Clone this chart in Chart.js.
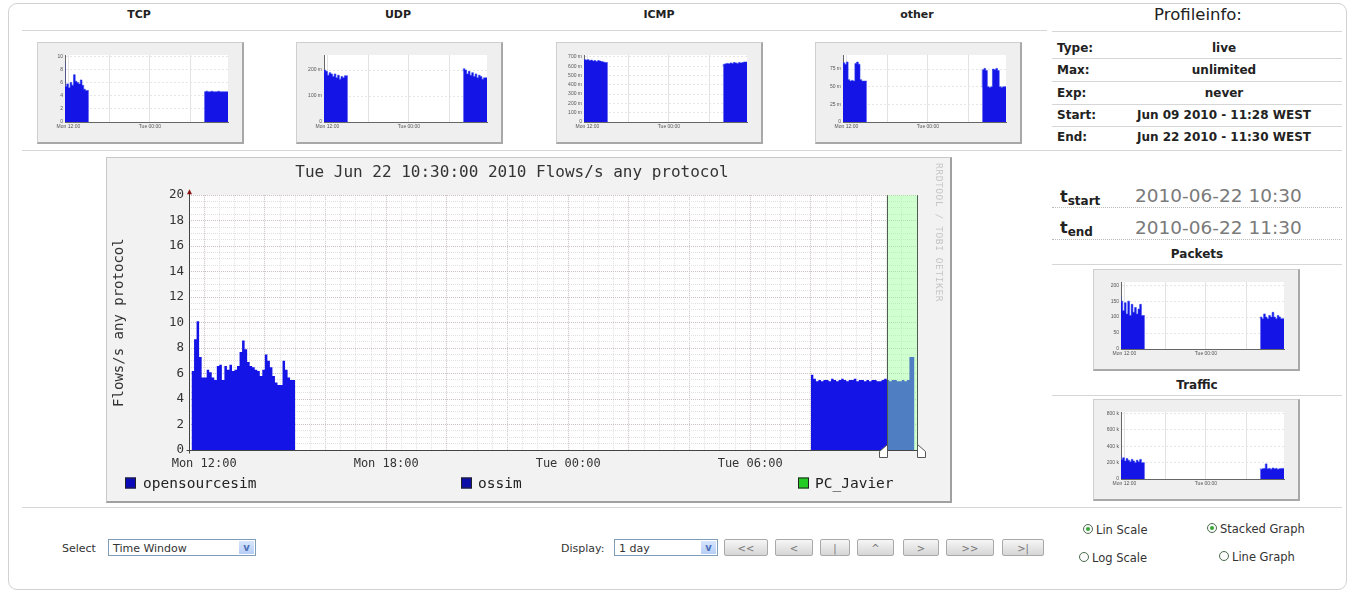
<!DOCTYPE html>
<html>
<head>
<meta charset="utf-8">
<title>NfSen - Flows/s any protocol</title>
<script src="https://cdn.jsdelivr.net/npm/chart.js@4.4.1/dist/chart.umd.min.js"></script>
<style>
  body { margin:0; width:1352px; height:592px; background:#fff; font-family:'DejaVu Sans', Verdana, sans-serif; color:#222; position:relative; overflow:hidden; }
  .abs { position:absolute; }
  .bingkai { left:8px; top:3px; width:1337px; height:585px; border:1px solid #d2d2d2; border-radius:9px; }
  .judulKolom { top:8px; font-size:11px; font-weight:bold; transform:translateX(-50%); white-space:nowrap; }
  .garis { height:0; border-top:1px solid #d6d6d6; }
  .kotakThumb { background:#efefef; border-left:1px solid #cfcfcf; border-top:1px solid #cfcfcf; border-right:2px solid #a8a8a8; border-bottom:2px solid #a8a8a8; }
  .kotakThumb canvas, .kotakUtama canvas { display:block; }
  .kotakUtama { left:106px; top:157px; background:#f2f2f2; border-left:1px solid #c8c8c8; border-top:1px solid #c8c8c8; border-right:2px solid #a0a0a0; border-bottom:2px solid #a0a0a0; }
  .labelProfil { left:1057px; font-size:12px; font-weight:bold; transform:translateY(-50%); }
  .nilaiProfil { left:1224px; font-size:12px; font-weight:bold; transform:translate(-50%,-50%); white-space:nowrap; }
  .tWaktu { left:1060px; font-size:16px; font-weight:bold; transform:translateY(-50%); }
  .tWaktu sub { font-size:12px; vertical-align:-3px; }
  .nilaiWaktu { left:1135px; font-size:18.5px; color:#7a7a7a; transform:translateY(-50%); white-space:nowrap; }
  .judulKecil { font-size:12px; font-weight:bold; transform:translate(-50%,-50%); }
  .legenda { font-family:'DejaVu Sans Mono', monospace; font-size:14.5px; color:#222; transform:translateY(-50%); white-space:nowrap; }
  .kotakLegenda { width:9px; height:9px; border:1px solid #222; transform:translateY(-50%); }
  .teksRrd { left:934px; top:163px; font-family:'DejaVu Sans Mono', monospace; font-size:9.5px; color:#c4c4c4; writing-mode:vertical-rl; letter-spacing:0.6px; }
  .teksKontrol { font-size:11px; color:#333; transform:translateY(-50%); white-space:nowrap; }
  .pilihan { height:17px; background:#fff; border:1px solid #7f9db9; font-size:11px; color:#333; line-height:17px; padding-left:4px; box-sizing:border-box; }
  .pilihan .panah { position:absolute; right:1px; top:1px; width:15px; height:13px; background:linear-gradient(#d8e6fc,#b6cdf6); border:0; color:#4d6fb8; font-size:10px; font-weight:bold; text-align:center; line-height:13px; }
  .tombol { top:539px; height:17px; background:linear-gradient(#f6f6f6,#d6d6d6); border:1px solid #a9a9a9; border-radius:2px; font-size:10px; color:#777; text-align:center; line-height:17px; box-sizing:border-box; }
  .radio { width:10px; height:10px; border:1px solid #4c6b4c; border-radius:50%; background:#fbfbfb; box-sizing:border-box; }
  .radio.isi::after { content:''; position:absolute; left:2px; top:2px; width:4px; height:4px; border-radius:50%; background:#34a834; }
  .teksRadio { font-size:11.5px; color:#333; transform:translateY(-50%); white-space:nowrap; }
</style>
</head>
<body>

<div class="abs bingkai"></div>

<!-- judul kolom atas -->
<div class="abs judulKolom" style="left:139px">TCP</div>
<div class="abs judulKolom" style="left:398px">UDP</div>
<div class="abs judulKolom" style="left:659px">ICMP</div>
<div class="abs judulKolom" style="left:917px">other</div>
<div class="abs" style="left:1198px; top:5px; font-size:16.5px; transform:translateX(-50%)">Profileinfo:</div>

<div class="abs garis" style="left:22px; top:30px; width:1025px"></div>
<div class="abs garis" style="left:1052px; top:31px; width:290px"></div>

<!-- thumbnail protokol -->
<div class="abs kotakThumb" style="left:37px; top:42px"><canvas id="thumbTcp" width="204" height="99"></canvas></div>
<div class="abs kotakThumb" style="left:296px; top:42px"><canvas id="thumbUdp" width="204" height="99"></canvas></div>
<div class="abs kotakThumb" style="left:556px; top:42px"><canvas id="thumbIcmp" width="204" height="99"></canvas></div>
<div class="abs kotakThumb" style="left:815px; top:42px"><canvas id="thumbOther" width="204" height="99"></canvas></div>

<!-- tabel profil -->
<div class="abs labelProfil" style="top:48px">Type:</div><div class="abs nilaiProfil" style="top:48px">live</div>
<div class="abs garis" style="left:1052px; top:58px; width:290px"></div>
<div class="abs labelProfil" style="top:70px">Max:</div><div class="abs nilaiProfil" style="top:70px">unlimited</div>
<div class="abs garis" style="left:1052px; top:81px; width:290px"></div>
<div class="abs labelProfil" style="top:93px">Exp:</div><div class="abs nilaiProfil" style="top:93px">never</div>
<div class="abs garis" style="left:1052px; top:104px; width:290px"></div>
<div class="abs labelProfil" style="top:115px">Start:</div><div class="abs nilaiProfil" style="top:115px">Jun 09 2010 - 11:28 WEST</div>
<div class="abs garis" style="left:1052px; top:126px; width:290px"></div>
<div class="abs labelProfil" style="top:137px">End:</div><div class="abs nilaiProfil" style="top:137px">Jun 22 2010 - 11:30 WEST</div>

<div class="abs garis" style="left:22px; top:150px; width:1320px"></div>

<!-- grafik utama -->
<div class="abs kotakUtama"><canvas id="grafikFlows" width="843" height="343"></canvas></div>
<div class="abs teksRrd">RRDTOOL / TOBI OETIKER</div>

<div class="abs kotakLegenda" style="left:125px; top:483px; background:#0a0ab8"></div>
<div class="abs legenda" style="left:143px; top:483px">opensourcesim</div>
<div class="abs kotakLegenda" style="left:461px; top:483px; background:#0c0ca8"></div>
<div class="abs legenda" style="left:478px; top:483px">ossim</div>
<div class="abs kotakLegenda" style="left:798px; top:483px; background:#22cc22"></div>
<div class="abs legenda" style="left:815px; top:483px">PC_Javier</div>

<!-- panel kanan -->
<div class="abs tWaktu" style="top:197px">t<sub>start</sub></div>
<div class="abs nilaiWaktu" style="top:195px">2010-06-22 10:30</div>
<div class="abs garis" style="left:1052px; top:207px; width:290px; border-top-style:dotted; border-color:#bbb"></div>
<div class="abs tWaktu" style="top:228px">t<sub>end</sub></div>
<div class="abs nilaiWaktu" style="top:227px">2010-06-22 11:30</div>
<div class="abs garis" style="left:1052px; top:239px; width:290px; border-top-style:dotted; border-color:#bbb"></div>

<div class="abs judulKecil" style="left:1197px; top:254px">Packets</div>
<div class="abs garis" style="left:1052px; top:264px; width:290px"></div>
<div class="abs kotakThumb" style="left:1093px; top:269px"><canvas id="thumbPackets" width="204" height="99"></canvas></div>

<div class="abs judulKecil" style="left:1197px; top:385px">Traffic</div>
<div class="abs garis" style="left:1052px; top:395px; width:290px"></div>
<div class="abs kotakThumb" style="left:1093px; top:399px"><canvas id="thumbTraffic" width="204" height="99"></canvas></div>

<div class="abs garis" style="left:22px; top:507px; width:1320px"></div>

<!-- kontrol bawah -->
<div class="abs teksKontrol" style="left:62px; top:548px">Select</div>
<div class="abs pilihan" style="left:108px; top:539px; width:148px">Time Window<div class="panah">v</div></div>
<div class="abs teksKontrol" style="left:561px; top:548px">Display:</div>
<div class="abs pilihan" style="left:614px; top:539px; width:104px">1 day<div class="panah">v</div></div>
<div class="abs tombol" style="left:724px; width:44px">&lt;&lt;</div>
<div class="abs tombol" style="left:775px; width:38px">&lt;</div>
<div class="abs tombol" style="left:820px; width:30px">|</div>
<div class="abs tombol" style="left:857px; width:37px">^</div>
<div class="abs tombol" style="left:903px; width:36px">&gt;</div>
<div class="abs tombol" style="left:946px; width:48px">&gt;&gt;</div>
<div class="abs tombol" style="left:1002px; width:42px">&gt;|</div>

<div class="abs radio isi" style="left:1083px; top:524px"></div>
<div class="abs teksRadio" style="left:1096px; top:530px">Lin Scale</div>
<div class="abs radio" style="left:1079px; top:552px"></div>
<div class="abs teksRadio" style="left:1092px; top:558px">Log Scale</div>
<div class="abs radio isi" style="left:1207px; top:523px"></div>
<div class="abs teksRadio" style="left:1220px; top:529px">Stacked Graph</div>
<div class="abs radio" style="left:1219px; top:551px"></div>
<div class="abs teksRadio" style="left:1232px; top:557px">Line Graph</div>

<script>
// data flows/s per 5 menit, sumbu x = menit sejak Mon 11:30 (jendela 1 hari)
const langkahMenit = 5;
const mulaiBlokKiri = 5;
const mulaiBlokKanan = 1230;
const flowsBlokKiri = [7.3, 6.2, 8.7, 10.1, 7.3, 5.7, 5.7, 6.3, 6.1, 5.7, 5.5, 6.6, 6.7, 5.5, 6.6, 6.3, 6.7, 6.2, 6.3, 6.6,
  7.7, 8.6, 7.9, 6.9, 6.6, 6.5, 6.3, 6.2, 5.8, 6.3, 7.5, 7.0, 6.5, 5.8, 5.3, 5.1, 5.1, 7.0, 6.3, 5.7, 5.5];
const flowsBlokKanan = [7.1, 5.9, 5.6, 5.4, 5.5, 5.4, 5.5, 5.5, 5.4, 5.6, 5.5, 5.4, 5.5, 5.6, 5.5, 5.4, 5.5, 5.5, 5.6, 5.4,
  5.5, 5.5, 5.4, 5.5, 5.4, 5.5, 5.5, 5.4, 5.4, 5.5, 5.6, 5.5, 5.4, 5.5, 5.5, 5.4, 5.4, 5.5, 5.4, 5.5, 7.3];

// label waktu di sumbu x
const nilaiLabelWaktu = [30, 390, 750, 1110];
const teksLabelWaktu = ['Mon 12:00', 'Mon 18:00', 'Tue 00:00', 'Tue 06:00'];

// jendela seleksi tstart - tend (10:30 - 11:30)
const seleksiMulai = 1380;
const seleksiAkhir = 1440;

// data thumbnail per 15 menit
const langkahThumb = 15;
const mulaiThumbKiri = 0;
const mulaiThumbKanan = 1230;
const tcpKiri = [9.2, 5.4, 5.8, 5.2, 6.0, 5.6, 7.2, 6.2, 6.0, 5.8, 6.4, 5.6, 5.0, 4.8];
const tcpKanan = [4.6, 4.6, 4.7, 4.6, 4.6, 4.7, 4.6, 4.6, 4.6, 4.7, 4.6, 4.6, 4.6, 4.6];
const udpKiri = [185, 200, 195, 180, 190, 185, 175, 185, 170, 180, 165, 175, 170, 178];
const udpKanan = [195, 205, 200, 185, 195, 180, 190, 175, 185, 170, 180, 175, 165, 170];
const icmpKiri = [680, 670, 665, 670, 660, 665, 655, 660, 650, 660, 655, 650, 645, 640];
const icmpKanan = [600, 620, 625, 630, 625, 635, 630, 640, 635, 630, 640, 635, 640, 645];
const otherKiri = [60, 84, 82, 85, 60, 58, 59, 58, 83, 85, 82, 60, 58, 58];
const otherKanan = [49, 74, 76, 73, 50, 49, 50, 75, 74, 76, 73, 50, 49, 50];
const packetsKiri = [165, 150, 120, 145, 110, 150, 105, 140, 115, 130, 110, 125, 140, 105];
const packetsKanan = [95, 100, 95, 110, 100, 95, 105, 100, 115, 100, 95, 105, 100, 95];
const trafficKiri = [300, 240, 260, 220, 250, 230, 210, 240, 220, 200, 230, 210, 240, 200];
const trafficKanan = [130, 120, 125, 130, 185, 125, 130, 120, 135, 125, 130, 120, 125, 130];
const labelThumb = ['Mon 12:00', 'Tue 00:00'];

// warna
const warnaBiruData = '#1414e6';
const warnaGridMinor = '#e0e0e0';
const warnaGridMayor = '#cdc2c2';

// bikin titik step dari satu blok data, plus titik penutup biar step terakhir ada lebarnya
function bikinTitikBlok(mulai, nilai, langkah) {
  const titik = nilai.map((v, i) => ({ x: mulai + i * langkah, y: v }));
  titik.push({ x: mulai + nilai.length * langkah, y: nilai[nilai.length - 1] });
  return titik;
}

// gabung 2 blok, tengahnya kosong (null) biar ada gap
function gabungBlok(kiri, kanan) {
  const tengah = (kiri[kiri.length - 1].x + kanan[0].x) / 2;
  return [...kiri, { x: tengah, y: null }, ...kanan];
}

// latar plot putih
const pluginLatarPutih = {
  id: 'latarPutih',
  beforeDraw(chart) {
    const { ctx, chartArea: a } = chart;
    ctx.save();
    ctx.fillStyle = '#ffffff';
    ctx.fillRect(a.left, a.top, a.right - a.left, a.bottom - a.top);
    ctx.restore();
  }
};

// pita seleksi hijau + gagang di bawahnya
const pluginSeleksi = {
  id: 'seleksi',
  afterDatasetsDraw(chart) {
    const { ctx, scales: { x, y } } = chart;
    const xL = Math.round(x.getPixelForValue(seleksiMulai)) + 0.5;
    const xR = Math.round(x.getPixelForValue(seleksiAkhir)) + 0.5;
    const yAtas = y.getPixelForValue(20);
    const yBawah = Math.round(y.getPixelForValue(0)) + 0.5;
    ctx.save();
    ctx.fillStyle = 'rgba(150,255,150,0.45)';
    ctx.fillRect(xL, yAtas, xR - xL, yBawah - yAtas);
    ctx.strokeStyle = '#4e5e4e';
    ctx.lineWidth = 1;
    ctx.beginPath();
    ctx.moveTo(xL, yAtas); ctx.lineTo(xL, yBawah);
    ctx.moveTo(xR, yAtas); ctx.lineTo(xR, yBawah);
    ctx.stroke();

    // sumbu x dan y ala rrdtool
    const x0 = Math.round(x.getPixelForValue(0)) + 0.5;
    ctx.strokeStyle = '#444';
    ctx.beginPath();
    ctx.moveTo(x0 - 3, yBawah); ctx.lineTo(x.getPixelForValue(1440) + 4, yBawah);
    ctx.moveTo(x0, yBawah + 3); ctx.lineTo(x0, yAtas - 4);
    ctx.stroke();
    ctx.fillStyle = '#8a1010';
    ctx.beginPath();
    ctx.moveTo(x0 - 2.5, yAtas - 1); ctx.lineTo(x0 + 2.5, yAtas - 1); ctx.lineTo(x0, yAtas - 6);
    ctx.closePath();
    ctx.fill();

    // gagang seleksi
    ctx.fillStyle = '#ffffff';
    ctx.strokeStyle = '#555';
    ctx.beginPath();
    ctx.moveTo(xL, yBawah - 6); ctx.lineTo(xL - 8, yBawah + 1); ctx.lineTo(xL - 8, yBawah + 7); ctx.lineTo(xL, yBawah + 7);
    ctx.closePath();
    ctx.fill(); ctx.stroke();
    ctx.beginPath();
    ctx.moveTo(xR, yBawah - 6); ctx.lineTo(xR + 8, yBawah + 1); ctx.lineTo(xR + 8, yBawah + 7); ctx.lineTo(xR, yBawah + 7);
    ctx.closePath();
    ctx.fill(); ctx.stroke();
    ctx.restore();
  }
};

const fontMono = "'DejaVu Sans Mono', monospace";

// grafik utama flows/s
const konteksFlows = document.getElementById('grafikFlows').getContext('2d');
new Chart(konteksFlows, {
  type: 'line',
  data: {
    datasets: [{
      label: 'opensourcesim',
      data: gabungBlok(
        bikinTitikBlok(mulaiBlokKiri, flowsBlokKiri, langkahMenit),
        bikinTitikBlok(mulaiBlokKanan, flowsBlokKanan, langkahMenit)
      ),
      stepped: 'after',
      fill: 'origin',
      backgroundColor: warnaBiruData,
      borderWidth: 0,
      pointRadius: 0,
      spanGaps: false
    }]
  },
  options: {
    responsive: false,
    animation: false,
    layout: { padding: { left: 0, right: 33, top: 0, bottom: 0 } },
    plugins: {
      legend: { display: false },
      tooltip: { enabled: false },
      title: {
        display: true,
        text: 'Tue Jun 22 10:30:00 2010 Flows/s any protocol',
        font: { family: fontMono, size: 16, weight: 'normal' },
        color: '#333',
        padding: { top: 5, bottom: 13 }
      }
    },
    scales: {
      x: {
        type: 'linear', min: 0, max: 1440,
        ticks: {
          stepSize: 30, autoSkip: false, maxRotation: 0, padding: 7,
          font: { family: fontMono, size: 12 }, color: '#333',
          callback: v => {
            const i = nilaiLabelWaktu.indexOf(v);
            return i >= 0 ? teksLabelWaktu[i] : '';
          }
        },
        grid: {
          drawTicks: false,
          color: c => ((c.tick.value - 30) % 120 === 0 ? warnaGridMayor : warnaGridMinor)
        },
        border: { display: false, dash: [1, 1] },
        afterFit: s => { s.height = 51; }
      },
      y: {
        min: 0, max: 20,
        ticks: {
          stepSize: 0.5, autoSkip: false, padding: 5,
          font: { family: fontMono, size: 12.5 }, color: '#333',
          callback: v => (v % 2 === 0 ? String(v) : '')
        },
        grid: {
          drawTicks: false,
          color: c => (c.tick.value % 2 === 0 ? warnaGridMayor : warnaGridMinor)
        },
        border: { display: false, dash: [1, 1] },
        title: {
          display: true,
          text: 'Flows/s any protocol',
          font: { family: fontMono, size: 14 },
          color: '#333',
          padding: { top: 4, bottom: 0 }
        },
        afterFit: s => { s.width = 82; }
      }
    }
  },
  plugins: [pluginLatarPutih, pluginSeleksi]
});

// helper thumbnail kecil
function bikinThumb(idCanvas, kiri, kanan, maksY, langkahY, formatY) {
  const konteks = document.getElementById(idCanvas).getContext('2d');
  new Chart(konteks, {
    type: 'line',
    data: {
      datasets: [{
        data: gabungBlok(
          bikinTitikBlok(mulaiThumbKiri, kiri, langkahThumb),
          bikinTitikBlok(mulaiThumbKanan, kanan, langkahThumb)
        ),
        stepped: 'after',
        fill: 'origin',
        backgroundColor: warnaBiruData,
        borderColor: '#2a3cf0',
        borderWidth: 0.6,
        pointRadius: 0,
        spanGaps: false
      }]
    },
    options: {
      responsive: false,
      animation: false,
      layout: { padding: { left: 0, right: 14, top: 12, bottom: 0 } },
      plugins: { legend: { display: false }, tooltip: { enabled: false } },
      scales: {
        x: {
          type: 'linear', min: 0, max: 1440,
          afterBuildTicks: s => { s.ticks = nilaiLabelWaktu.map(v => ({ value: v })); },
          ticks: {
            autoSkip: false, maxRotation: 0, padding: 2,
            font: { size: 5 }, color: '#555',
            callback: v => (v === nilaiLabelWaktu[0] ? labelThumb[0] : v === nilaiLabelWaktu[2] ? labelThumb[1] : '')
          },
          grid: { drawTicks: false, color: '#e2e2e2' },
          border: { display: true, color: '#666', width: 1 },
          afterFit: s => { s.height = 20; }
        },
        y: {
          min: 0, max: maksY,
          // tick cuma kelipatan langkahY, max-nya ga ikut dilabel
          afterBuildTicks: s => {
            const daftar = [];
            for (let v = 0; v <= maksY; v += langkahY) daftar.push({ value: v });
            s.ticks = daftar;
          },
          ticks: {
            padding: 2,
            font: { size: 5 }, color: '#555',
            callback: formatY
          },
          grid: { drawTicks: false, color: '#e6e6e6' },
          border: { display: true, color: '#666', width: 1, dash: [2, 2] },
          afterFit: s => { s.width = 27; }
        }
      }
    },
    plugins: [pluginLatarPutih]
  });
}

bikinThumb('thumbTcp', tcpKiri, tcpKanan, 10.2, 2, v => String(v));
bikinThumb('thumbUdp', udpKiri, udpKanan, 258, 100, v => (v === 0 ? '0' : v + ' m'));
bikinThumb('thumbIcmp', icmpKiri, icmpKanan, 720, 100, v => (v === 0 ? '0' : v + ' m'));
bikinThumb('thumbOther', otherKiri, otherKanan, 95, 25, v => (v === 0 ? '0' : v + ' m'));
bikinThumb('thumbPackets', packetsKiri, packetsKanan, 210, 50, v => String(v));
bikinThumb('thumbTraffic', trafficKiri, trafficKanan, 820, 200, v => (v === 0 ? '0' : v + ' k'));
</script>
</body>
</html>
